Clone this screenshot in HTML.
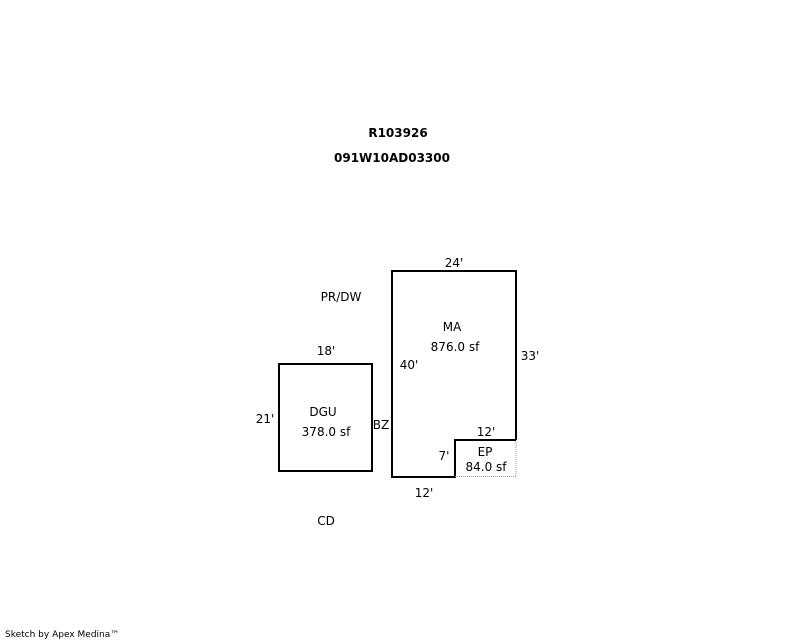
<!DOCTYPE html>
<html><head><style>
html,body{margin:0;padding:0;background:#fff;overflow:hidden;width:800px;height:640px;}
svg{display:block;}
svg text{font-family:"DejaVu Sans","Liberation Sans",sans-serif;font-size:12px;fill:#000;}
</style></head><body>
<svg width="800" height="640" xmlns="http://www.w3.org/2000/svg">
<text x="398" y="137" text-anchor="middle" font-weight="bold" style="font-size:12px">R103926</text>
<text x="392" y="162" text-anchor="middle" font-weight="bold" style="font-size:12px">091W10AD03300</text>
<polyline points="516,440 516,271 392,271 392,477 455,477 455,440 516,440" fill="none" stroke="#000" stroke-width="2"/>
<line x1="516" y1="441" x2="516" y2="477" stroke="#999" stroke-width="1" stroke-dasharray="1,1"/>
<line x1="455" y1="476.5" x2="516" y2="476.5" stroke="#999" stroke-width="1" stroke-dasharray="1,1"/>
<rect x="279" y="364" width="93" height="107" fill="none" stroke="#000" stroke-width="2"/>
<text x="454" y="267" text-anchor="middle">24'</text>
<text x="452" y="331" text-anchor="middle">MA</text>
<text x="455" y="351" text-anchor="middle">876.0 sf</text>
<text x="530" y="360" text-anchor="middle">33'</text>
<text x="409" y="369" text-anchor="middle">40'</text>
<text x="486" y="436" text-anchor="middle">12'</text>
<text x="444" y="460" text-anchor="middle">7'</text>
<text x="485" y="456" text-anchor="middle">EP</text>
<text x="486" y="471" text-anchor="middle">84.0 sf</text>
<text x="424" y="497" text-anchor="middle">12'</text>
<text x="341" y="301" text-anchor="middle">PR/DW</text>
<text x="326" y="355" text-anchor="middle">18'</text>
<text x="265" y="423" text-anchor="middle">21'</text>
<text x="323" y="416" text-anchor="middle">DGU</text>
<text x="326" y="436" text-anchor="middle">378.0 sf</text>
<text x="381" y="429" text-anchor="middle">BZ</text>
<text x="326" y="525" text-anchor="middle">CD</text>
<text x="5" y="637" style="font-size:9px">Sketch by Apex Medina™</text>
</svg>
</body></html>
